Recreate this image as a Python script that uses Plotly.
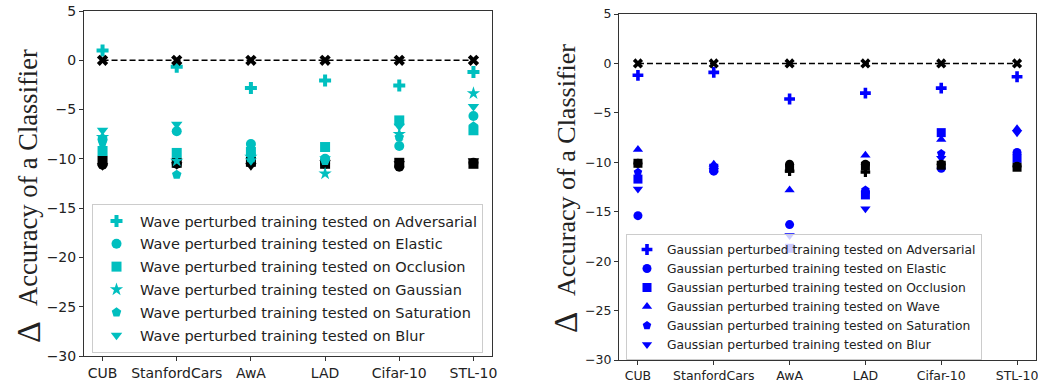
import plotly.graph_objects as go

W, H = 1038, 383

categories = ["CUB", "StanfordCars", "AwA", "LAD", "Cifar-10", "STL-10"]
y_ticks = [5, 0, -5, -10, -15, -20, -25, -30]
baseline = [0, 0, 0, 0, 0, 0]

# Left panel: Wave perturbed training
wave_names = ["Adversarial", "Elastic", "Occlusion", "Gaussian", "Saturation", "Blur"]
wave_adversarial = [1.0, -0.65, -2.8, -2.05, -2.55, -1.2]
wave_elastic = [-8.0, -7.2, -8.5, -10.0, -8.7, -5.65]
wave_occlusion = [-9.2, -9.4, -9.3, -8.8, -6.1, -7.1]
wave_gaussian = [-7.8, -10.2, -9.8, -11.5, -7.5, -3.35]
wave_saturation = [-8.3, -11.6, -9.6, -10.2, -7.8, -6.7]
wave_blur = [-7.1, -6.5, -10.2, -10.0, -6.7, -4.7]
wave_black_circle = [-10.6, -10.5, -10.4, -10.5, -10.8, -10.4]
wave_black_square = [-10.2, -10.4, -10.3, -10.5, -10.4, -10.5]
wave_black_tri = [-10.7, -10.6, -10.7, -10.4, -10.5, -10.2]

# Right panel: Gaussian perturbed training
gauss_names = ["Adversarial", "Elastic", "Occlusion", "Wave", "Saturation", "Blur"]
gauss_adversarial = [-1.2, -0.9, -3.6, -3.0, -2.5, -1.35]
gauss_elastic = [-15.4, -10.9, -16.3, -13.0, -10.6, -9.0]
gauss_occlusion = [-11.7, -10.6, -18.7, -13.3, -7.0, -9.6]
gauss_wave = [-8.7, -10.2, -12.8, -9.3, -7.7, -6.6]
gauss_saturation = [-11.0, -10.4, -10.5, -12.8, -9.1, -9.3]
gauss_blur = [-12.7, -10.8, -17.4, -14.7, -9.6, -7.0]
gauss_black_circle = [-10.1, None, -10.2, -10.2, -10.2, -10.4]
gauss_black_square = [-10.1, None, -10.6, -10.4, -10.3, -10.5]
gauss_black_cross = [None, None, -10.9, -11.0, None, None]

CYAN = "#00bfbf"
BLUE = "#0000ff"
TICK_FONT = "DejaVu Sans"


def px(x):
    return x / W


def py(y):
    return 1 - y / H


fig = go.Figure()


def add_black(xa, ya, vals, symbol, size):
    fig.add_trace(go.Scatter(x=categories, y=vals, mode="markers", xaxis=xa, yaxis=ya,
                             marker=dict(symbol=symbol, size=size, color="black"),
                             showlegend=False, hoverinfo="skip"))


# ---- left panel ----
add_black("x", "y", wave_black_circle, "circle", 10)
add_black("x", "y", wave_black_square, "square", 10)
add_black("x", "y", wave_black_tri, "triangle-down", 10)

left_series = [wave_adversarial, wave_elastic, wave_occlusion, wave_gaussian, wave_saturation, wave_blur]
left_symbols = ["cross", "circle", "square", "star", "pentagon", "triangle-down"]
for i, (name, vals, sym) in enumerate(zip(wave_names, left_series, left_symbols)):
    fig.add_trace(go.Scatter(x=categories, y=vals, mode="markers", xaxis="x", yaxis="y",
                             name="Wave perturbed training tested on " + name,
                             legend="legend", legendgroup="L%d" % i,
                             marker=dict(symbol=sym, size=10, color=CYAN)))

fig.add_trace(go.Scatter(x=categories, y=baseline, mode="lines+markers", xaxis="x", yaxis="y",
                         line=dict(color="black", width=1.5, dash="6px,3px"),
                         marker=dict(symbol="x", size=10, color="black"), showlegend=False))

# ---- right panel ----
right_series = [gauss_adversarial, gauss_elastic, gauss_occlusion, gauss_wave, gauss_saturation, gauss_blur]
right_symbols = ["cross", "circle", "square", "triangle-up", "pentagon", "triangle-down"]
for i, (name, vals, sym) in enumerate(zip(gauss_names, right_series, right_symbols)):
    fig.add_trace(go.Scatter(x=categories, y=vals, mode="markers", xaxis="x2", yaxis="y2",
                             name="Gaussian perturbed training tested on " + name,
                             legend="legend2", legendgroup="R%d" % i,
                             marker=dict(symbol=sym, size=9, color=BLUE)))

add_black("x2", "y2", gauss_black_circle, "circle", 9)
add_black("x2", "y2", gauss_black_square, "square", 9)
add_black("x2", "y2", gauss_black_cross, "cross", 8)

fig.add_trace(go.Scatter(x=categories, y=baseline, mode="lines+markers", xaxis="x2", yaxis="y2",
                         line=dict(color="black", width=1.5, dash="6px,3px"),
                         marker=dict(symbol="x", size=9, color="black"), showlegend=False))


def xax(domain, fs):
    return dict(domain=domain, type="category", range=[-0.25, 5.25], categoryorder="array",
                categoryarray=categories, showline=True, linecolor="#333", linewidth=1, mirror=True,
                ticks="outside", ticklen=4, tickcolor="#333", showgrid=False, zeroline=False,
                automargin=False, ticklabeloverflow="allow",
                tickfont=dict(family=TICK_FONT, size=fs, color="#222"))


def yax(domain, fs):
    return dict(domain=domain, range=[-30, 5], tickvals=y_ticks, showline=True, linecolor="#333",
                linewidth=1, mirror=True, ticks="outside", ticklen=4, tickcolor="#333",
                showgrid=False, zeroline=False, automargin=False, ticklabeloverflow="allow",
                tickfont=dict(family=TICK_FONT, size=fs, color="#222"))


xl = xax([px(84), px(492)], 14); xl["anchor"] = "y"
yl = yax([py(356), py(11)], 14); yl["anchor"] = "x"
xr = xax([px(619), px(1036)], 12.5); xr["anchor"] = "y2"
yr = yax([py(360), py(14)], 12.5); yr["anchor"] = "x2"


def title(text, x, y, size):
    return dict(text=text, x=px(x), y=py(y), xref="paper", yref="paper", xanchor="center",
                yanchor="middle", textangle=-90, showarrow=False,
                font=dict(family="Liberation Serif", size=size, color="#222"))


fig.update_layout(
    width=W, height=H, margin=dict(l=0, r=0, t=0, b=0, autoexpand=False),
    paper_bgcolor="white", plot_bgcolor="white",
    xaxis=xl, yaxis=yl, xaxis2=xr, yaxis2=yr,
    legend=dict(x=px(92), y=py(204), xanchor="left", yanchor="top", itemwidth=37,
                bgcolor="rgba(255,255,255,0.8)", bordercolor="#cccccc", borderwidth=1,
                font=dict(family=TICK_FONT, size=14.5, color="#222"), tracegroupgap=1),
    legend2=dict(x=px(626), y=py(234), xanchor="left", yanchor="top",
                 bgcolor="rgba(255,255,255,0.8)", bordercolor="#cccccc", borderwidth=1,
                 font=dict(family=TICK_FONT, size=12.3, color="#222"), tracegroupgap=0),
    annotations=[
        title("Accuracy of a Classifier", 28, 178, 26.5),
        title("Δ", 28, 332, 34),
        title("Accuracy of a Classifier", 566, 170, 26),
        title("Δ", 566, 323, 33),
    ],
)

fig.write_html("out.html", config={"displayModeBar": False},
               post_script="document.body.style.margin='0';document.body.style.overflow='hidden';")
